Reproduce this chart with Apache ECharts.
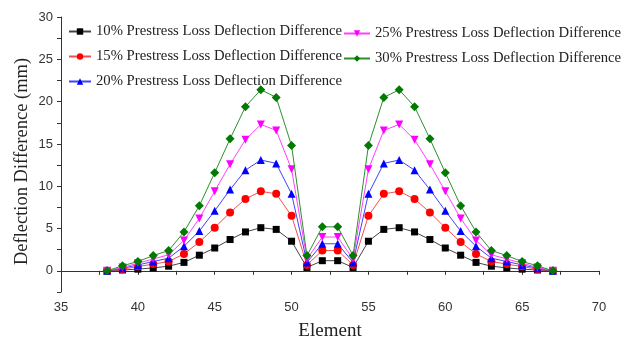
<!DOCTYPE html>
<html>
<head>
<meta charset="utf-8">
<script src="https://cdn.jsdelivr.net/npm/echarts@6/dist/echarts.min.js"></script>
<style>html,body{margin:0;padding:0;background:#fff;}#c{width:622px;height:342px;}</style>
</head>
<body>
<div id="c"></div>
<script>
const elements = [38,39,40,41,42,43,44,45,46,47,48,49,50,51,52,53,54,55,56,57,58,59,60,61,62,63,64,65,66,67];
const loss10 = [0,0.1,0.2,0.35,0.55,1.0,1.85,2.7,3.7,4.6,5.1,4.9,3.5, 0.4,1.2,1.2,0.4, 3.5,4.9,5.1,4.6,3.7,2.7,1.85,1.0,0.55,0.35,0.2,0.1,0];
const loss15 = [0,0.2,0.5,0.8,1.1,2.0,3.4,5.1,6.9,8.5,9.4,9.1,6.5, 0.7,2.4,2.4,0.7, 6.5,9.1,9.4,8.5,6.9,5.1,3.4,2.0,1.1,0.8,0.5,0.2,0];
const loss20 = [0,0.3,0.7,1.1,1.5,2.9,4.7,7.1,9.6,11.9,13.1,12.7,9.1, 1.0,3.2,3.2,1.0, 9.1,12.7,13.1,11.9,9.6,7.1,4.7,2.9,1.5,1.1,0.7,0.3,0];
const loss25 = [0,0.4,0.9,1.4,1.9,3.6,6.2,9.4,12.6,15.5,17.3,16.6,12.0, 1.4,4.0,4.0,1.4, 12.0,16.6,17.3,15.5,12.6,9.4,6.2,3.6,1.9,1.4,0.9,0.4,0];
const loss30 = [0,0.6,1.1,1.8,2.4,4.6,7.7,11.6,15.6,19.4,21.4,20.5,14.8, 1.8,5.2,5.2,1.8, 14.8,20.5,21.4,19.4,15.6,11.6,7.7,4.6,2.4,1.8,1.1,0.6,0];
const names = ['10% Prestress Loss Deflection Difference','15% Prestress Loss Deflection Difference','20% Prestress Loss Deflection Difference','25% Prestress Loss Deflection Difference','30% Prestress Loss Deflection Difference'];
const xTicks = [35,40,45,50,55,60,65,70];
const yTicks = [0,5,10,15,20,25,30];

const sets = [loss10, loss15, loss20, loss25, loss30];
const markColors = ['#000000','#ff0000','#0000ff','#ff00ff','#007a00'];
const lineColors = ['#444444','#f05050','#4040ff','#ff40ff','#2e8f2e'];
const symbols = ['rect','circle','triangle','triangle','diamond'];
const rotates = [0,0,0,180,0];
const sizes = [7,8,8,8,9];

const chart = echarts.init(document.getElementById('c'), null, {renderer:'canvas'});
const serif = 'Liberation Serif, Times New Roman, serif';
const sans = 'Liberation Sans, Arial, sans-serif';
const legendText = {fontFamily: serif, fontSize: 14.7, color: '#222'};
chart.setOption({
  animation: false,
  backgroundColor: '#fff',
  grid: {left: 61, right: 23, top: 17, bottom: 50, outerBoundsMode: 'none', containLabel: false},
  legend: [
    {data: names.slice(0,3), orient: 'vertical', left: 68, top: 24, itemWidth: 22, itemHeight: 8, itemGap: 10, textStyle: legendText, padding: 0},
    {data: names.slice(3), orient: 'vertical', left: 343, top: 26, itemWidth: 26, itemHeight: 8, itemGap: 10, textStyle: legendText, padding: 0}
  ],
  xAxis: {
    type: 'value', min: 35, max: 70, interval: 2.5,
    name: 'Element', nameLocation: 'middle', nameGap: 30, nameMoveOverlap: false,
    nameTextStyle: {fontFamily: serif, fontSize: 19, color: '#222'},
    axisLine: {lineStyle: {color: '#333', width: 1}},
    axisTick: {show: true, length: 4, lineStyle: {color: '#333'}},
    axisLabel: {margin: 9, fontFamily: sans, fontSize: 13, color: '#333',
      formatter: v => xTicks.includes(v) ? String(v) : ''},
    splitLine: {show: false}
  },
  yAxis: {
    type: 'value', min: -2.5, max: 30, interval: 2.5,
    name: 'Deflection Difference (mm)', nameLocation: 'middle', nameGap: 29, nameMoveOverlap: false,
    nameTextStyle: {fontFamily: serif, fontSize: 18.5, color: '#222', padding: [0, 14, 0, 0]},
    axisLine: {show: true, lineStyle: {color: '#333', width: 1}},
    axisTick: {show: true, length: 4, lineStyle: {color: '#333'}},
    axisLabel: {margin: 8, fontFamily: sans, fontSize: 13, color: '#333',
      formatter: v => yTicks.includes(v) ? String(v) : ''},
    splitLine: {show: false}
  },
  series: sets.map((arr, i) => ({
    name: names[i], type: 'line',
    data: elements.map((x, j) => [x, arr[j]]),
    symbol: symbols[i], symbolSize: sizes[i], symbolRotate: rotates[i],
    showAllSymbol: true,
    itemStyle: {color: markColors[i]},
    lineStyle: {color: lineColors[i], width: 1},
    z: 2 + i
  }))
});
</script>
</body>
</html>
